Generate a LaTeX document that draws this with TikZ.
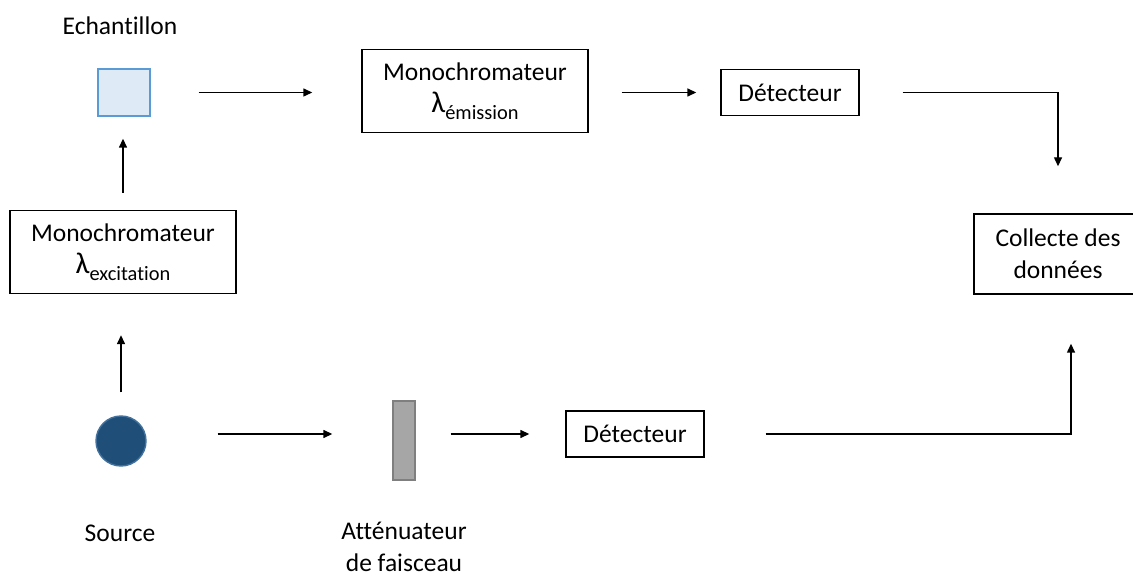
\documentclass[tikz,border=0pt]{standalone}
\usepackage{fontspec}
\setmainfont{Carlito}[Ligatures=NoCommon]
\usetikzlibrary{arrows.meta}

\definecolor{samplefill}{HTML}{DEEBF7}
\definecolor{sampleedge}{HTML}{5B9BD5}
\definecolor{srcfill}{HTML}{1F4E79}
\definecolor{srcedge}{HTML}{41719C}
\definecolor{attfill}{HTML}{A6A6A6}
\definecolor{attedge}{HTML}{7F7F7F}

\newcommand{\lamsub}[1]{{\fontsize{15}{16}\selectfont λ}\raisebox{-3.5pt}{\fontsize{10.2}{12}\selectfont #1}}

\tikzset{
	box/.style={draw, line width=0.7pt, align=center, inner sep=2pt},
	mono/.style={box, minimum width=113pt, minimum height=41.5pt},
	det/.style={box, minimum width=69pt, minimum height=23pt},
	flow/.style={-{Triangle[length=4.5pt,width=4pt]}, line width=0.7pt},
	tag/.style={align=center}
}

\begin{document}
\begin{tikzpicture}[x=0.5pt, y=-0.5pt, font=\fontsize{12.75}{16}\selectfont]
				\useasboundingbox (0,0) rectangle (1133,576);
				
				\node[draw=sampleedge, fill=samplefill, line width=0.7pt, minimum width=26pt, minimum height=23.5pt, inner sep=0pt] (sample) at (124,92.5) {};
				\node[tag] (sampletxt) at (120,26) {Echantillon};
				
				\node[mono] (monoexc) at (123,252) {Monochromateur\\\lamsub{excitation}};
				\node[mono] (monoem) at (475,91) {Monochromateur\\\lamsub{émission}};
				\node[det] (detem) at (790,92.5) {Détecteur};
				\node[box, minimum width=84pt, minimum height=40pt] (collecte) at (1058,254) {Collecte des\\données};
				
				\node[circle, draw=srcedge, fill=srcfill, line width=0.7pt, minimum size=25pt, inner sep=0pt] (source) at (121,441) {};
				\node[tag] (sourcetxt) at (120,533) {Source};
				\node[draw=attedge, fill=attfill, line width=0.7pt, minimum width=11pt, minimum height=39.5pt, inner sep=0pt] (atten) at (404,440.5) {};
				\node[tag] (attentxt) at (404,547) {Atténuateur\\de faisceau};
				\node[det] (detref) at (635,434) {Détecteur};
				
				\draw[flow, shorten <=11.5pt, shorten >=20.5pt] (source.north) -- (source.north |- monoexc.south);
				\draw[flow, shorten <=8.5pt, shorten >=11pt] (monoexc.north) -- (monoexc.north |- sample.south);
				\draw[flow, shorten <=24pt, shorten >=24.5pt] (sample.east) -- (sample.east -| monoem.west);
				\draw[flow, shorten <=16.5pt, shorten >=12pt] (monoem.east |- detem) -- (detem.west);
				\draw[flow, shorten <=21.5pt, shorten >=23.5pt] (detem.east) -| (collecte.north);
				
				\draw[flow, shorten <=35.5pt, shorten >=30pt] (source.east |- detref) -- (atten.west |- detref);
				\draw[flow, shorten <=17.5pt, shorten >=18pt] (atten.east |- detref) -- (detref.west);
				\draw[flow, shorten <=30.5pt, shorten >=24.5pt] (detref.east) -| ([xshift=6.5pt]collecte.south);
			\end{tikzpicture}
\end{document}
